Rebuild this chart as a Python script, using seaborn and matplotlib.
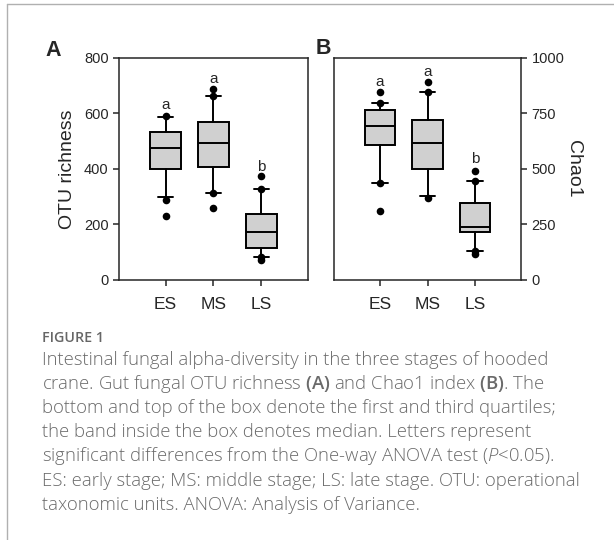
import numpy as np
import pandas as pd
import matplotlib
matplotlib.use("Agg")
import matplotlib.pyplot as plt
from matplotlib.lines import Line2D
import seaborn as sns

stages = ["ES", "MS", "LS"]

# panel A: OTU richness
otu_q1 = [399, 407, 114]
otu_med = [477, 493, 172]
otu_q3 = [535, 569, 237]
otu_lo = [298, 315, 84]
otu_hi = [587, 662, 328]
otu_out = [[591, 289, 232], [688, 662, 313, 259], [373, 328, 84, 73]]
otu_letters = ["a", "a", "b"]
otu_letter_y = [630, 726, 407]

# panel B: Chao1
chao_q1 = [607, 498, 215]
chao_med = [692, 616, 237]
chao_q3 = [767, 719, 345]
chao_lo = [435, 377, 132]
chao_hi = [799, 845, 447]
chao_out = [[845, 799, 435, 312], [892, 845, 368], [489, 447, 132, 117]]
chao_letters = ["a", "a", "b"]
chao_letter_y = [893, 939, 543]

caption_title = "FIGURE 1"
caption_lines = [
    "Intestinal fungal alpha-diversity in the three stages of hooded",
    r"crane. Gut fungal OTU richness $\mathbf{(A)}$ and Chao1 index $\mathbf{(B)}$. The",
    "bottom and top of the box denote the first and third quartiles;",
    "the band inside the box denotes median. Letters represent",
    r"significant differences from the One-way ANOVA test ($\mathit{P}$<0.05).",
    "ES: early stage; MS: middle stage; LS: late stage. OTU: operational",
    "taxonomic units. ANOVA: Analysis of Variance.",
]

sns.set_style("ticks")
plt.rcParams["font.family"] = ["Liberation Sans", "DejaVu Sans"]
plt.rcParams["mathtext.fontset"] = "custom"
plt.rcParams["mathtext.it"] = "Open Sans:italic:light"
plt.rcParams["mathtext.bf"] = "Open Sans:semibold"
plt.rcParams["mathtext.rm"] = "Open Sans:light"


def draw_panel(ax, q1, med, q3, lo, hi, outs, letters, letter_y):
    stats = []
    for i, s in enumerate(stages):
        stats.append({"label": s, "q1": q1[i], "med": med[i], "q3": q3[i],
                      "whislo": lo[i], "whishi": hi[i], "fliers": []})
    ax.bxp(stats, positions=range(len(stages)), widths=0.65, patch_artist=True,
           showfliers=False,
           boxprops=dict(facecolor="#d0d0d0", edgecolor="black", linewidth=1.4),
           medianprops=dict(color="black", linewidth=1.4),
           whiskerprops=dict(color="black", linewidth=1.4),
           capprops=dict(color="black", linewidth=1.4),
           capwidths=0.32)
    pts = pd.DataFrame([(i, v) for i, vals in enumerate(outs) for v in vals],
                       columns=["pos", "value"])
    sns.scatterplot(data=pts, x="pos", y="value", color="black", s=30,
                    edgecolor="black", linewidth=0, ax=ax, zorder=5)
    for i, (lt, ly) in enumerate(zip(letters, letter_y)):
        ax.text(i, ly, lt, ha="center", va="center", fontsize=11)
    ax.set_xlim(-0.97, 2.97)
    ax.set_xticks(range(len(stages)))
    ax.set_xticklabels(stages, fontsize=12.5)
    ax.set_xlabel("")
    for sp in ax.spines.values():
        sp.set_visible(True)
        sp.set_linewidth(1.1)
    ax.tick_params(axis="x", length=4, width=1.1, pad=8)
    ax.tick_params(axis="y", length=4, width=1.1, labelsize=10.5)


fig = plt.figure(figsize=(6.14, 5.4), dpi=100)

axA = fig.add_axes([0.1938, 0.4815, 0.3078, 0.4111])
draw_panel(axA, otu_q1, otu_med, otu_q3, otu_lo, otu_hi, otu_out,
           otu_letters, otu_letter_y)
axA.set_ylim(0, 800)
axA.set_yticks([0, 200, 400, 600, 800])
axA.set_ylabel("OTU richness", fontsize=14, labelpad=6)

axB = fig.add_axes([0.544, 0.4815, 0.3046, 0.4111])
draw_panel(axB, chao_q1, chao_med, chao_q3, chao_lo, chao_hi, chao_out,
           chao_letters, chao_letter_y)
axB.set_ylim(0, 1000)
axB.set_yticks([0, 250, 500, 750, 1000])
axB.yaxis.tick_right()
axB.yaxis.set_label_position("right")
axB.set_ylabel("Chao1", fontsize=14, rotation=270, labelpad=13)

fig.text(53 / 614, 1 - 50 / 540, "A", fontsize=15.5, fontweight="bold",
         ha="center", va="center")
fig.text(323 / 614, 1 - 48 / 540, "B", fontsize=15.5, fontweight="bold",
         ha="center", va="center")

# outer frame lines
fig.add_artist(Line2D([7 / 614, 1], [1 - 4 / 540, 1 - 4 / 540],
                      transform=fig.transFigure, color="#b0b0b0", linewidth=1))
fig.add_artist(Line2D([7 / 614, 7 / 614], [0, 1 - 4 / 540],
                      transform=fig.transFigure, color="#b0b0b0", linewidth=1))

cap_font = ["Open Sans", "DejaVu Sans"]
fig.text(42 / 614, 1 - 338 / 540, caption_title, fontsize=10.3,
         fontweight="semibold", color="#666666", family=cap_font, va="center")
for k, line in enumerate(caption_lines):
    fig.text(42 / 614, 1 - (360 + 24.1 * k) / 540, line, fontsize=13.3,
             fontweight="light", color="#6a6a6a", family=cap_font, va="center")

fig.savefig("out.png", dpi=100)
